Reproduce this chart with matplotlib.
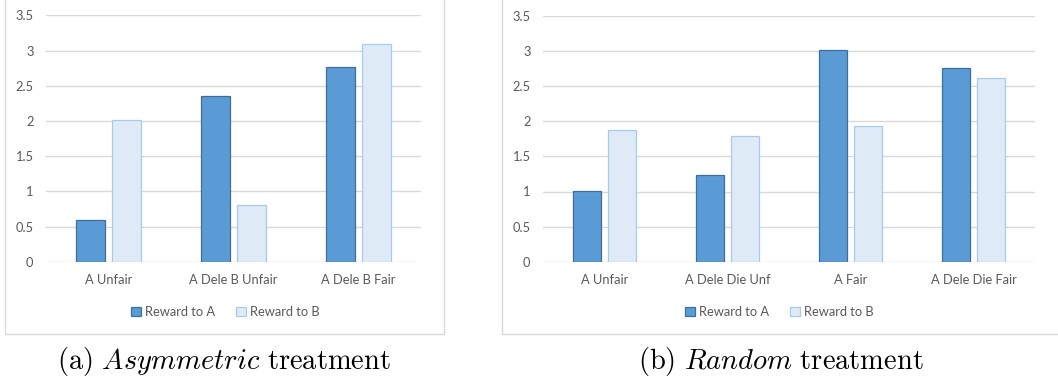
import matplotlib
matplotlib.use("Agg")
import matplotlib.pyplot as plt
import numpy as np
from matplotlib.patches import Rectangle, Patch

# --- data ---
cats_a = ["A Unfair", "A Dele B Unfair", "A Dele B Fair"]
reward_a_asym = [0.59, 2.36, 2.77]
reward_b_asym = [2.01, 0.81, 3.09]

cats_b = ["A Unfair", "A Dele Die Unf", "A Fair", "A Dele Die Fair"]
reward_a_rand = [1.01, 1.24, 3.01, 2.76]
reward_b_rand = [1.87, 1.79, 1.93, 2.61]

yticks = [0, 0.5, 1, 1.5, 2, 2.5, 3, 3.5]
ytick_labels = ["0", "0.5", "1", "1.5", "2", "2.5", "3", "3.5"]
series_names = ["Reward to A", "Reward to B"]
captions = [r"$\mathrm{(a)\ }\mathit{Asymmetric}\mathrm{\ treatment}$",
            r"$\mathrm{(b)\ }\mathit{Random}\mathrm{\ treatment}$"]

COL_A, EDGE_A = "#5B9BD5", "#3E6E9C"
COL_B, EDGE_B = "#DEEAF6", "#A9CBEA"
GRID = "#D9D9D9"
TXT = "#595959"

plt.rcParams["font.family"] = ["Lato", "DejaVu Sans"]
plt.rcParams["mathtext.fontset"] = "cm"

W, H = 1058, 385
fig = plt.figure(figsize=(W / 100, H / 100), dpi=100)


def px_axes(x0, x1, ytop, ybot):
    return fig.add_axes([x0 / W, (H - ybot) / H, (x1 - x0) / W, (ybot - ytop) / H])


def draw_panel(ax, cats, a_vals, b_vals):
    x = np.arange(len(cats))
    w = 0.23
    ax.bar(x - 0.143, a_vals, w, color=COL_A, edgecolor=EDGE_A, linewidth=0.9, zorder=3)
    ax.bar(x + 0.143, b_vals, w, color=COL_B, edgecolor=EDGE_B, linewidth=0.9, zorder=3)
    ax.set_xlim(-0.5, len(cats) - 0.5)
    ax.set_ylim(0, 3.5)
    ax.set_yticks(yticks)
    ax.set_yticklabels(ytick_labels)
    ax.set_xticks(x)
    ax.set_xticklabels(cats)
    ax.yaxis.grid(True, color=GRID, linewidth=1.0, zorder=0)
    ax.set_axisbelow(True)
    for s in ax.spines.values():
        s.set_visible(False)
    ax.tick_params(axis="both", length=0, labelsize=9.3, colors=TXT)
    ax.tick_params(axis="y", pad=9)
    ax.tick_params(axis="x", pad=9)


# panel frames
fig.patches.append(Rectangle((5 / W, (H - 334) / H), 439 / W, 334 / H + 0.05,
                             transform=fig.transFigure, fill=False,
                             edgecolor=GRID, linewidth=1.0))
fig.patches.append(Rectangle((502 / W, (H - 333.5) / H), 556 / W + 0.01, 333.5 / H + 0.05,
                             transform=fig.transFigure, fill=False,
                             edgecolor=GRID, linewidth=1.0))

ax1 = px_axes(46, 421, 15.3, 261.7)
draw_panel(ax1, cats_a, reward_a_asym, reward_b_asym)
ax2 = px_axes(543, 1035, 16, 261.7)
draw_panel(ax2, cats_b, reward_a_rand, reward_b_rand)

handles = [Patch(facecolor=COL_A, edgecolor=EDGE_A, linewidth=0.9),
           Patch(facecolor=COL_B, edgecolor=EDGE_B, linewidth=0.9)]
for cx in (225, 779):
    fig.legend(handles, series_names, loc="center", bbox_to_anchor=(cx / W, (H - 312) / H),
               ncol=2, frameon=False, fontsize=9.3, handlelength=0.8, handleheight=0.8,
               handletextpad=0.3, columnspacing=1.6, labelcolor=TXT)

fig.text(224 / W, (H - 361) / H, captions[0], ha="center", va="center", fontsize=20.5)
fig.text(781 / W, (H - 361) / H, captions[1], ha="center", va="center", fontsize=20.5)

fig.savefig("out.png", dpi=100)
